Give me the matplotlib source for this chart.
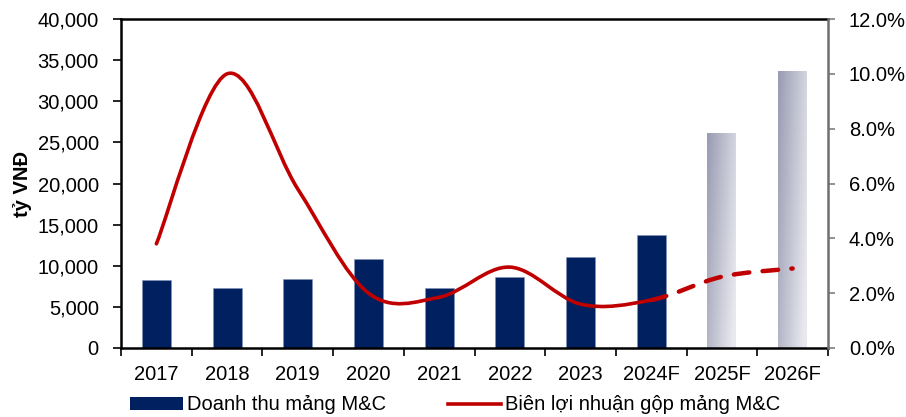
import numpy as np
import matplotlib
matplotlib.use("Agg")
import matplotlib.pyplot as plt
from matplotlib.path import Path
from matplotlib.patches import PathPatch, Patch
from matplotlib.lines import Line2D
from matplotlib.ticker import FuncFormatter

# Dữ liệu
years = ["2017", "2018", "2019", "2020", "2021", "2022", "2023", "2024F", "2025F", "2026F"]
doanh_thu = [8300, 7300, 8400, 10800, 7300, 8600, 11100, 13750, 26100, 33700]
bien_ln = [3.8, 10.0, 5.8, 2.0, 1.85, 2.95, 1.6, 1.75, 2.6, 2.9]
n_actual = 8   # số cột thực tế (có màu xanh đậm)
n_solid = 8    # đường liền tới 2024F, sau đó là nét đứt

plt.rcParams["font.family"] = ["Liberation Sans", "DejaVu Sans"]
fs = 14.5

fig = plt.figure(figsize=(9.06, 4.17), dpi=100)
ax = fig.add_axes([0.1336, 0.1655, 0.7803, 0.7889])
ax2 = ax.twinx()

x = np.arange(len(years))
bw = 0.41

# Cột thực tế
ax.bar(x[:n_actual], doanh_thu[:n_actual], width=bw, color="#002060",
       edgecolor="#8094b8", linewidth=0.4, zorder=2)

# Cột dự phóng với màu gradient
c_tl = np.array([152, 155, 178]) / 255
c_br = np.array([232, 232, 238]) / 255
gx, gy = np.meshgrid(np.linspace(0, 1, 60), np.linspace(0, 1, 200))
t = np.clip(0.75 * gx + 0.35 * gy, 0, 1)[..., None]
grad = c_tl * (1 - t) + c_br * t
for i in range(n_actual, len(years)):
    b = ax.bar(x[i], doanh_thu[i], width=bw, color="none", linewidth=0, zorder=2)[0]
    im = ax.imshow(grad, extent=[x[i] - bw / 2, x[i] + bw / 2, 0, doanh_thu[i]],
                   origin="upper", aspect="auto", zorder=2)
    im.set_clip_path(b)

ax.set_xlim(-0.5, len(years) - 0.5)
ax.set_ylim(0, 40000)
ax.set_yticks(np.arange(0, 40001, 5000))
ax.yaxis.set_major_formatter(FuncFormatter(lambda v, p: f"{int(v):,}"))
ax.set_ylabel("tỷ VNĐ", fontsize=fs, fontweight="bold", labelpad=4)

ax.set_xticks(np.arange(-0.5, len(years), 1))
ax.set_xticklabels([])
ax.set_xticks(x, minor=True)
ax.set_xticklabels(years, minor=True)
ax.tick_params(axis="x", which="major", length=6, width=1.2, direction="out")
ax.tick_params(axis="x", which="minor", length=0, pad=12, labelsize=fs)
ax.tick_params(axis="y", length=6, width=1.2, pad=10, labelsize=fs)

for s in ["left", "top", "bottom"]:
    ax.spines[s].set_linewidth(1.8)
    ax.spines[s].set_color("black")
ax.spines["right"].set_visible(False)

# Đường biên lợi nhuận (làm mượt kiểu Excel bằng đường cong Bezier)
def smooth_path(xs, ys, start, end):
    verts = [(xs[start], ys[start])]
    codes = [Path.MOVETO]
    m = len(xs)
    for k in range(start, end):
        p0 = k - 1 if k > 0 else k
        p3 = k + 2 if k + 2 < m else k + 1
        c1 = (xs[k] + (xs[k + 1] - xs[p0]) / 6, ys[k] + (ys[k + 1] - ys[p0]) / 6)
        c2 = (xs[k + 1] - (xs[p3] - xs[k]) / 6, ys[k + 1] - (ys[p3] - ys[k]) / 6)
        verts += [c1, c2, (xs[k + 1], ys[k + 1])]
        codes += [Path.CURVE4] * 3
    return Path(verts, codes)

xs = list(x)
ys = list(bien_ln)
ax2.add_patch(PathPatch(smooth_path(xs, ys, 0, n_solid - 1), facecolor="none",
                        edgecolor="#C00000", linewidth=2.6, capstyle="round", zorder=3))
ax2.add_patch(PathPatch(smooth_path(xs, ys, n_solid - 1, len(xs) - 1), facecolor="none",
                        edgecolor="#C00000", linewidth=3.2, linestyle=(0, (3.5, 3)),
                        capstyle="round", zorder=3))

ax2.set_ylim(0, 12)
ax2.set_yticks(np.arange(0, 12.1, 2))
ax2.yaxis.set_major_formatter(FuncFormatter(lambda v, p: f"{v:.1f}%"))
ax2.tick_params(axis="y", length=5, width=1.2, color="#7f7f7f", pad=10, labelsize=fs)
for s in ["left", "top", "bottom"]:
    ax2.spines[s].set_visible(False)
ax2.spines["right"].set_color("#6f6f6f")
ax2.spines["right"].set_linewidth(1.8)

handles = [Patch(facecolor="#002060", edgecolor="none"),
           Line2D([0], [0], color="#C00000", linewidth=2.6)]
fig.legend(handles, ["Doanh thu mảng M&C", "Biên lợi nhuận gộp mảng M&C"],
           loc="lower left", bbox_to_anchor=(0.124, -0.037), ncol=2, frameon=False,
           fontsize=fs, handlelength=2.6, handleheight=0.6, handletextpad=0.2,
           columnspacing=3.1)

fig.savefig("out.png", dpi=100)
